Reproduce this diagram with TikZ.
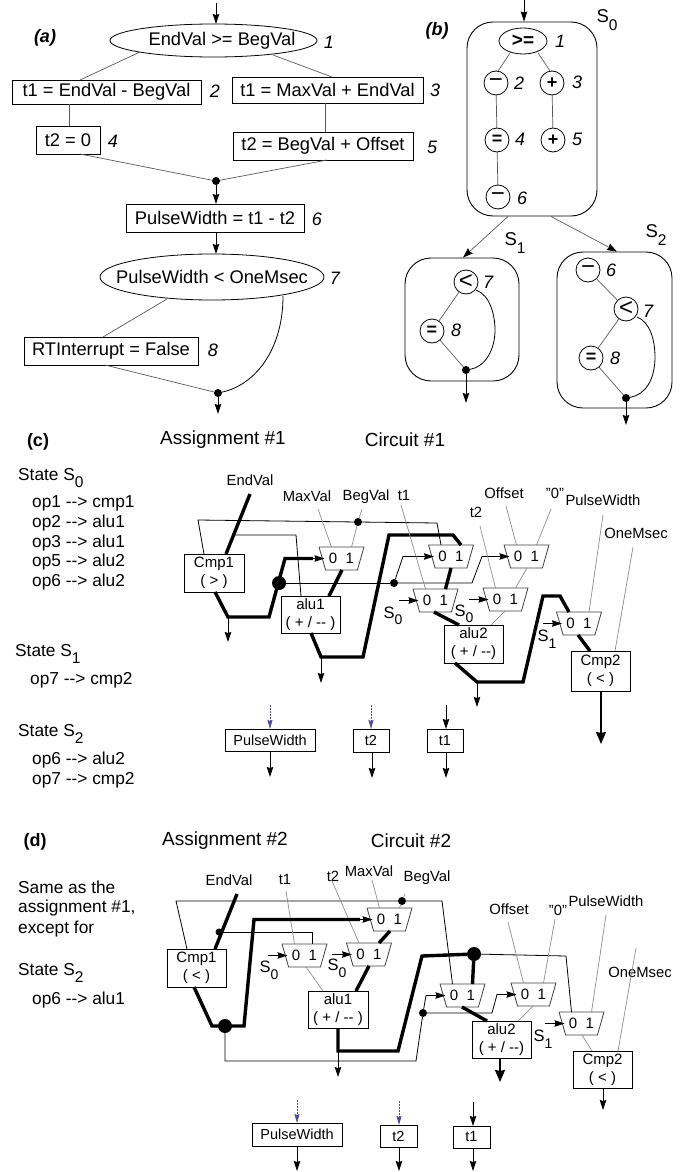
\documentclass[tikz,border=0pt]{standalone}
\usepackage{fontspec}
\setmainfont{Liberation Sans}
\usetikzlibrary{arrows.meta,shapes.geometric,calc}
\newcommand{\fz}[1]{\fontsize{#1}{#1}\selectfont}
\newcommand{\Sb}[1]{S\raisebox{-0.4em}{\fz{15.5}#1}}
\newcommand{\Sc}[1]{S\raisebox{-0.4em}{\fz{14}#1}}
\newcommand{\mux}[3]{%
  \node[muxn] (#1) at (#2,#3+11.5) {0\hspace{8.5pt}1};
  \coordinate (#1-0) at (#2-10,#3);
  \coordinate (#1-1) at (#2+10,#3);
  \coordinate (#1-n) at (#2,#3);
  \coordinate (#1-s) at (#2,#3+23);
  \coordinate (#1-l) at (#2-17,#3+11.5);
}
\tikzset{
  wire/.style={line width=0.8pt,draw=black},
  wg/.style={line width=0.7pt,draw=black!45},
  wa/.style={line width=0.7pt,draw=black!65},
  wk/.style={line width=3.4pt,draw=black},
  arr/.style={-{Stealth[length=10pt,width=6.5pt,inset=1pt]}},
  arra/.style={-{Stealth[length=10pt,width=7pt,inset=1pt,color=black]}},
  arrk/.style={-{Stealth[length=12pt,width=10pt,inset=1pt]}},
  arrb/.style={line width=0.7pt,draw=blue!45!black!70,dash pattern=on 2pt off 1pt,-{Stealth[length=9pt,width=5pt,inset=1pt]}},
  box/.style={draw,rectangle,line width=0.8pt,inner sep=0pt,outer sep=0pt,font=\fz{18.3}},
  ell/.style={draw,ellipse,line width=0.8pt,inner sep=0pt,outer sep=0pt,font=\fz{18.3}},
  num/.style={font=\fz{18}\itshape,inner sep=0pt},
  tag/.style={font=\fz{18}\bfseries\itshape,inner sep=0pt},
  ctag/.style={font=\fz{18}\bfseries,inner sep=0pt},
  head/.style={font=\fz{19},inner sep=0pt},
  ltxt/.style={font=\fz{17.3},inner sep=0pt,anchor=west},
  lab/.style={font=\fz{14.8},inner sep=0pt},
  sel/.style={font=\fz{16.5},inner sep=0pt},
  stt/.style={font=\fz{18.5},inner sep=0pt},
  cir/.style={draw,circle,line width=0.8pt,inner sep=0pt,outer sep=0pt,minimum size=24pt,font=\fz{18}\bfseries},
  cirl/.style={cir,font=\fz{24}},
  blk/.style={draw,rectangle,line width=0.9pt,inner sep=0pt,outer sep=0pt,align=center,font=\fz{15}},
  dot/.style={circle,fill=black,inner sep=0pt,outer sep=0pt,minimum size=8pt},
  dotb/.style={circle,fill=black,inner sep=0pt,outer sep=0pt,minimum size=14pt},
  state/.style={draw,rectangle,rounded corners=26pt,line width=0.9pt,inner sep=0pt},
  muxn/.style={draw,trapezium,trapezium stretches=true,trapezium left angle=64,trapezium right angle=64,shape border rotate=180,minimum width=45pt,minimum height=23pt,inner sep=0pt,outer sep=0pt,line width=0.8pt,draw=black!75,font=\fz{15}},
}
\begin{document}
\begin{tikzpicture}[x=1pt,y=-1pt]
\useasboundingbox (0,0) rectangle (687,1172);
% ---------- (a)
\node[tag] (ta) at (45,38) {(a)};
\node[ell,minimum width=207pt,minimum height=33pt] (e1) at (213.5,40.5) {\makebox[0pt]{\hspace*{17pt}EndVal >= BegVal}};
\node[box,minimum width=189pt,minimum height=24pt] (b2) at (106.5,92) {t1 = EndVal - BegVal};
\node[box,minimum width=191pt,minimum height=26pt] (b3) at (327.5,90) {t1 = MaxVal + EndVal};
\node[box,minimum width=64pt,minimum height=28pt] (b4) at (68,140) {t2 = 0};
\node[box,minimum width=180pt,minimum height=28pt] (b5) at (323,146) {t2 = BegVal + Offset};
\node[dot] (da1) at (216,181) {};
\node[box,minimum width=178pt,minimum height=28pt] (b6) at (215,218) {PulseWidth = t1 - t2};
\node[ell,minimum width=224pt,minimum height=46pt] (e2) at (212,277) {\makebox[0pt]{PulseWidth < OneMsec}};
\node[box,minimum width=174pt,minimum height=28pt] (b8) at (111,351) {RTInterrupt = False};
\node[dot] (da2) at (218,393) {};
\node[num] (na1) at (329,42) {1};
\node[num] (na2) at (215,91) {2};
\node[num] (na3) at (435,90) {3};
\node[num] (na4) at (113,141) {4};
\node[num] (na5) at (432,147) {5};
\node[num] (na6) at (317,219) {6};
\node[num] (na7) at (335,278) {7};
\node[num] (na8) at (213,350) {8};
\coordinate (ina) at (216,3);
\draw[wire,arr] (ina) -- (216,0 |- e1.north);
\draw[wa] ([shift={(-73.5,11.5)}]e1.center) -- (80,0 |- b2.north);
\draw[wa] ([shift={(59.5,14.5)}]e1.center) -- (332,0 |- b3.north);
\draw[wa] (69,0 |- b2.south) -- (69,0 |- b4.north);
\draw[wa] (325,0 |- b3.south) -- (325,0 |- b5.north);
\draw[wa] (80,0 |- b4.south) -- (da1);
\draw[wa] (327,0 |- b5.south) -- (da1);
\draw[wire,arr] (da1) -- (216,0 |- b6.north);
\draw[wire,arr] (216,0 |- b6.south) -- (216,0 |- e2.north);
\draw[wa] ([shift={(-45,22)}]e2.center) -- (103,0 |- b8.north);
\draw[wa] (105,0 |- b8.south) -- (da2);
\draw[wire] ([shift={(71,19)}]e2.center) .. controls (283,350) and (255,385) .. (da2);
\draw[wire,arr] (da2) -- ++(0,21);
% ---------- (b)
\node[tag] (tb) at (437,31) {(b)};
\node[state,minimum width=130pt,minimum height=194pt] (s0) at (532,119) {};
\node[state,minimum width=114pt,minimum height=123pt] (s1) at (462,319.5) {};
\node[state,minimum width=115pt,minimum height=156pt] (s2) at (614.5,330) {};
\node[stt] (ls0) at (607,20) {\Sb{0}};
\node[stt] (ls1) at (515,243) {\Sb{1}};
\node[stt] (ls2) at (656,235) {\Sb{2}};
\node[ell,minimum width=48pt,minimum height=26pt,font=\fz{19}\bfseries] (g1) at (523,41) {>=};
\node[cirl] (g2) at (496,83) {−};
\node[cir] (g3) at (552,83) {+};
\node[cir] (g4) at (497,140) {=};
\node[cir] (g5) at (553,140) {+};
\node[cirl] (g6) at (498,197) {−};
\node[num] (nb1) at (560,41) {1};
\node[num] (nb2) at (519,83) {2};
\node[num] (nb3) at (577,82) {3};
\node[num] (nb4) at (520,139) {4};
\node[num] (nb5) at (577,139) {5};
\node[num] (nb6) at (522,198) {6};
\coordinate (inb) at (524,0);
\draw[wire,arr] (inb) -- (524,0 |- s0.north);
\draw[wa] ([shift={(-13,12)}]g1.center) -- ([shift={(2,-12)}]g2.center);
\draw[wa] ([shift={(15,12)}]g1.center) -- ([shift={(-2,-12)}]g3.center);
\draw[wa] (g2) -- (g4);
\draw[wa] (g3) -- (g5);
\draw[wa] (g4) -- (g6);
\draw[wa,arra] (508,0 |- s0.south) -- (463,0 |- s1.north);
\draw[wa,arra] (551,0 |- s0.south) -- (617,0 |- s2.north);
\node[cirl] (h7) at (466,282) {<};
\node[cir] (h8) at (432,331) {=};
\node[dot] (hd) at (466,370) {};
\node[num] (nh7) at (488,282) {7};
\node[num] (nh8) at (456,330) {8};
\draw[wa] (h7) -- (h8);
\draw[wa] (h8) -- (hd);
\draw[wire] ([shift={(10,8)}]h7.center) .. controls (490,295) and (495,315) .. (495,330) .. controls (495,350) and (485,367) .. (hd);
\draw[wire,arr] (hd) -- ++(0,33);
\node[cirl] (k6) at (588,270) {−};
\node[cirl] (k7) at (626,309) {<};
\node[cir] (k8) at (591,358) {=};
\node[dot] (kd) at (626,398) {};
\node[num] (nk6) at (611,270) {6};
\node[num] (nk7) at (648,311) {7};
\node[num] (nk8) at (615,358) {8};
\draw[wa] (k6) -- (k7);
\draw[wa] (k7) -- (k8);
\draw[wa] (k8) -- (kd);
\draw[wire] ([shift={(11,8)}]k7.center) .. controls (650,322) and (655,340) .. (655,357) .. controls (655,380) and (645,395) .. (kd);
\draw[wire,arr] (kd) -- ++(0,27);
% ---------- (c) left text
\node[ctag] (tc) at (38,442) {(c)};
\node[head] (ha1) at (223,440) {Assignment \#1};
\node[head] (hc1) at (405,440) {Circuit \#1};
\node[ltxt] (t1) at (18,478) {State \Sb{0}};
\node[ltxt] (t2) at (32,503) {op1 -{}-> cmp1};
\node[ltxt] (t3) at (32,523) {op2 -{}-> alu1};
\node[ltxt] (t4) at (32,543) {op3 -{}-> alu1};
\node[ltxt] (t5) at (32,562) {op5 -{}-> alu2};
\node[ltxt] (t6) at (32,582) {op6 -{}-> alu2};
\node[ltxt] (t7) at (15,654) {State \Sb{1}};
\node[ltxt] (t8) at (30,680) {op7 -{}-> cmp2};
\node[ltxt] (t9) at (18,734) {State \Sb{2}};
\node[ltxt] (t10) at (32,760) {op6 -{}-> alu2};
\node[ltxt] (t11) at (32,780) {op7 -{}-> cmp2};
% ---------- circuit 1
\node[blk,minimum width=60pt,minimum height=38pt] (c1) at (214,573) {Cmp1\\[3pt]( > )};
\node[blk,minimum width=59pt,minimum height=37pt] (a1) at (310.5,614.5) {alu1\\[3pt]( + / -{}- )};
\node[blk,minimum width=59pt,minimum height=38pt] (a2) at (473.5,644) {alu2\\[3pt]( + / -{}-)};
\node[blk,minimum width=59pt,minimum height=40pt] (c2) at (600.5,671) {Cmp2\\[3pt]( < )};
\mux{mA}{341.5}{547}
\mux{mB}{451}{545}
\mux{mC}{435.5}{589}
\mux{mE}{505.5}{588}
\mux{mD}{526.5}{545}
\mux{mF}{579}{612}
\node[lab] (lEv) at (250,480) {EndVal};
\node[lab] (lMx) at (307,496) {MaxVal};
\node[lab] (lBv) at (366,497) {BegVal};
\node[lab] (lT1) at (404,495) {t1};
\node[lab] (lT2) at (476,512) {t2};
\node[lab] (lOf) at (504,493) {Offset};
\node[lab] (lZ) at (555,493) {"0"};
\node[lab] (lPw) at (603,500) {PulseWidth};
\node[lab] (lOm) at (636,533) {OneMsec};
\node[sel] (sA) at (393,616) {\Sc{0}};
\node[sel] (sB) at (464,614) {\Sc{0}};
\node[sel] (sC) at (547,639) {\Sc{1}};
\node[dot] (dA) at (358,522) {};
\node[dotb] (dB) at (279,583) {};
\node[dot] (dC) at (394,583) {};
\coordinate (jA) at (228,617);
\coordinate (jB) at (321,657);
\coordinate (jC) at (477,682);
\coordinate (tapA) at (235,535);
\draw[wk] ([shift={(0,14)}]lEv.center) -- (226,0 |- c1.north);
\draw[wire] (204,0 |- c1.north) -- (198,520) -- (dA);
\draw[wire] (dA) -- (437,523) -- (mB-0);
\draw[wire] (tapA) -- (296,535) -- (301,0 |- a1.north);
\draw[wg] ([shift={(11,13)}]lMx.center) -- (mA-0);
\draw[wg] ([shift={(-4,12)}]lBv.center) -- (dA);
\draw[wg] (dA) -- (mA-1);
\draw[wk] (215,0 |- c1.south) -- (jA) -- (269,617) -- (285,0 |- mA-l) -- (313,0 |- mA-l);
\draw[wire,arr] (313,0 |- mA-l) -- (mA-l);
\draw[wire,arr] (jA) -- ++(0,25);
\draw[wire] (dB) -- (dC);
\draw[wire,arr] (dC) -- (472,583) -- (482,0 |- mD-l) -- (mD-l);
\draw[wire,arr] (dC) -- (403,0 |- mB-l) -- (mB-l);
\draw[wk] (342,0 |- mA-s) -- (329,0 |- a1.north);
\draw[wk] (311,0 |- a1.south) -- (jB) -- (363,657) -- (389,535) -- (453,535) -- (mB-1);
\draw[wire,arr] (jB) -- ++(0,26);
\draw[wk] (451,0 |- mB-s) -- (mC-1);
\draw[wg] ([shift={(-3,10)}]lT1.center) -- (mC-0);
\draw[wg] ([shift={(4,14)}]lT2.center) -- (mE-0);
\draw[wg] ([shift={(2,13)}]lOf.center) -- (mD-0);
\draw[wg] ([shift={(-4,16)}]lZ.center) -- (mD-1);
\draw[wg] ([shift={(0,15)}]lPw.center) -- (mF-1);
\draw[wg] ([shift={(-3,14)}]lOm.center) -- (615,0 |- c2.north);
\draw[wg] (527,0 |- mD-s) -- (mE-1);
\draw[wg] (505,0 |- mE-s) -- (491,0 |- a2.north);
\draw[wk] (434,0 |- mC-s) -- (459,0 |- a2.north);
\draw[wire,arr] (399,0 |- mC-l) -- (mC-l);
\draw[wire,arr] (469,0 |- mE-l) -- (mE-l);
\draw[wire,arr] (543,0 |- mF-l) -- (mF-l);
\draw[wk] (455,0 |- a2.south) -- (jC) -- (523,682) -- (543,596) -- (560,596) -- (mF-0);
\draw[wire,arr] (jC) -- ++(0,25);
\draw[wk] (578,0 |- mF-s) -- (590,0 |- c2.north);
\draw[line width=2pt,arrk] (601,0 |- c2.south) -- ++(0,53);
% state boxes row c
\node[blk,minimum width=90pt,minimum height=22pt,font=\fz{14.5}] (r1) at (270,740) {PulseWidth};
\node[blk,minimum width=36pt,minimum height=23pt,font=\fz{14.5}] (r2) at (371,740.5) {t2};
\node[blk,minimum width=36pt,minimum height=23pt,font=\fz{14.5}] (r3) at (445,740.5) {t1};
\coordinate (ir1) at (270,705);
\coordinate (ir2) at (371,705);
\coordinate (ir3) at (446,705);
\draw[arrb] (ir1) -- (270,0 |- r1.north);
\draw[arrb] (ir2) -- (371,0 |- r2.north);
\draw[wire,arr] (ir3) -- (446,0 |- r3.north);
\draw[wire,arr] (270,0 |- r1.south) -- ++(0,26);
\draw[wire,arr] (372,0 |- r2.south) -- ++(0,26);
\draw[wire,arr] (446,0 |- r3.south) -- ++(0,26);
% ---------- (d) left text
\node[ctag] (td) at (35,842) {(d)};
\node[head] (ha2) at (225,841) {Assignment \#2};
\node[head] (hc2) at (411,841) {Circuit \#2};
\node[ltxt] (u1) at (18,887) {Same as the};
\node[ltxt] (u2) at (18,908) {assignment \#1,};
\node[ltxt] (u3) at (18,929) {except for};
\node[ltxt] (u4) at (18,973) {State \Sb{2}};
\node[ltxt] (u5) at (32,1000) {op6 -{}-> alu1};
% ---------- circuit 2
\node[blk,minimum width=59pt,minimum height=38pt] (c3) at (196.5,968) {Cmp1\\[3pt]( < )};
\node[blk,minimum width=60pt,minimum height=37pt] (a3) at (338,1009.5) {alu1\\[3pt]( + / -{}- )};
\node[blk,minimum width=59pt,minimum height=37pt] (a4) at (501.5,1039.5) {alu2\\[3pt]( + / -{}-)};
\node[blk,minimum width=59pt,minimum height=37pt] (c4) at (602.5,1069.5) {Cmp2\\[3pt]( < )};
\mux{mI}{389.5}{908}
\mux{mH}{304.5}{944}
\mux{mJ}{369}{943}
\mux{mG}{462.5}{984}
\mux{mK}{533.5}{983}
\mux{mL}{581.5}{1012}
\node[lab] (lEv2) at (229,880) {EndVal};
\node[lab] (lT3) at (285,879) {t1};
\node[lab] (lT4) at (333,876) {t2};
\node[lab] (lMx2) at (369,871) {MaxVal};
\node[lab] (lBg2) at (427,878) {BegVal};
\node[lab] (lOf2) at (509,909) {Offset};
\node[lab] (lZ2) at (558,910) {"0"};
\node[lab] (lPw2) at (606,901) {PulseWidth};
\node[lab] (lOm2) at (640,972) {OneMsec};
\node[sel] (sD) at (269,970) {\Sc{0}};
\node[sel] (sE) at (337,968) {\Sc{0}};
\node[sel] (sF) at (543,1039) {\Sc{1}};
\node[dot] (dE) at (402,901) {};
\node[dot,minimum size=7pt] (dF) at (219,932) {};
\node[dotb] (dG) at (225,1026) {};
\node[dot] (dH) at (423,1013) {};
\node[dotb] (dI) at (474,954) {};
\coordinate (jD) at (338,1051);
\draw[wk] ([shift={(8,14)}]lEv2.center) -- (215,0 |- c3.north);
\draw[wire] (187,0 |- c3.north) -- (176,901) -- (dE);
\draw[wire] (dE) -- (442,901) -- (mG-0);
\draw[wire] (dF) -- (312,932) -- (312,0 |- mH-n);
\draw[wg] ([shift={(1,12)}]lT3.center) -- (mH-0);
\draw[wg] ([shift={(-1,5)}]lT4.center) -- (mJ-0);
\draw[wg] ([shift={(3,9)}]lMx2.center) -- (mI-0);
\draw[wg] ([shift={(-22,16)}]lBg2.center) -- (dE);
\draw[wg] (dE) -- (mI-1);
\draw[wk] (194,0 |- c3.south) -- (212,1026) -- (244,1026) -- (254,0 |- mI-l) -- (360,0 |- mI-l);
\draw[wire,arr] (360,0 |- mI-l) -- (mI-l);
\draw[wire] (dG) -- (225,1061) -- (416,1061) -- (dH);
\draw[wire,arr] (dH) -- (426,0 |- mG-l) -- (mG-l);
\draw[wire,arr] (dH) -- (492,1013) -- (497,0 |- mK-l) -- (mK-l);
\draw[wk] (390,0 |- mI-s) -- (mJ-1);
\draw[wk] (369,0 |- mJ-s) -- (356,0 |- a3.north);
\draw[wg] (306,0 |- mH-s) -- (323,0 |- a3.north);
\draw[wire,arr] (268,0 |- mH-l) -- (mH-l);
\draw[wire,arr] (332,0 |- mJ-l) -- (mJ-l);
\draw[wire,arr] (545,0 |- mL-l) -- (mL-l);
\draw[wk] (338,0 |- a3.south) -- (jD) -- (398,1051) -- (422,956) -- (dI);
\draw[wire,arr] (jD) -- ++(0,26);
\draw[wk] (dI) -- (mG-1);
\draw[wire] (dI) -- (566,956) -- (mL-0);
\draw[wk] (462,0 |- mG-s) -- (487,0 |- a4.north);
\draw[line width=2pt,arrk] (500,0 |- a4.south) -- ++(0,24);
\draw[wg] (533,0 |- mK-s) -- (518,0 |- a4.north);
\draw[wg] (582,0 |- mL-s) -- (592,0 |- c4.north);
\draw[wire,arr] (603,0 |- c4.south) -- ++(0,22);
\draw[wg] ([shift={(-1,13)}]lOf2.center) -- (mK-0);
\draw[wg] ([shift={(-3,9)}]lZ2.center) -- (mK-1);
\draw[wg] ([shift={(0,14)}]lPw2.center) -- (mL-1);
\draw[wg] ([shift={(-4,-24)}]lOm2.center) -- (618,0 |- c4.north);
% state boxes row d
\node[blk,minimum width=90pt,minimum height=23pt,font=\fz{14.5}] (q1) at (297,1134.5) {PulseWidth};
\node[blk,minimum width=37pt,minimum height=22pt,font=\fz{14.5}] (q2) at (398.5,1136) {t2};
\node[blk,minimum width=37pt,minimum height=22pt,font=\fz{14.5}] (q3) at (471.5,1137) {t1};
\coordinate (iq1) at (297,1100);
\coordinate (iq2) at (399,1101);
\coordinate (iq3) at (473,1102);
\draw[arrb] (iq1) -- (297,0 |- q1.north);
\draw[arrb] (iq2) -- (399,0 |- q2.north);
\draw[wire,arr] (iq3) -- (473,0 |- q3.north);
\draw[wire,arr] (297,0 |- q1.south) -- ++(0,25);
\draw[wire,arr] (399,0 |- q2.south) -- ++(0,24);
\draw[wire,arr] (473,0 |- q3.south) -- ++(0,23);
\end{tikzpicture}
\end{document}
